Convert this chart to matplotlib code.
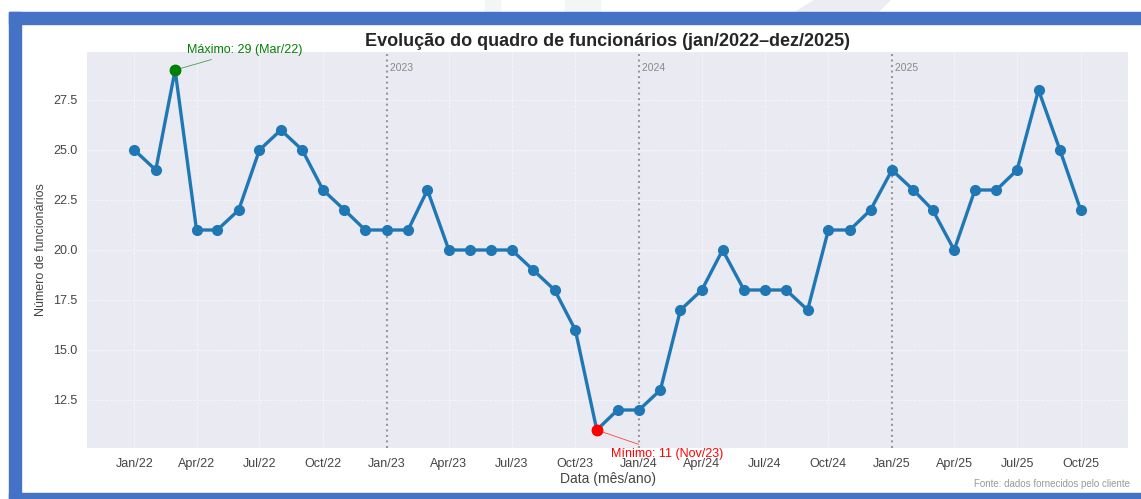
import numpy as np
import pandas as pd
import matplotlib
matplotlib.use("Agg")
import matplotlib.pyplot as plt
import matplotlib.dates as mdates
from matplotlib.patches import Rectangle, Polygon

# dados mensais (jan/2022 - out/2025)
start_month = "2022-01-01"
headcount = [25, 24, 29, 21, 21, 22, 25, 26, 25, 23, 22, 21,
             21, 21, 23, 20, 20, 20, 20, 19, 18, 16, 11, 12,
             12, 13, 17, 18, 20, 18, 18, 18, 17, 21, 21, 22,
             24, 23, 22, 20, 23, 23, 24, 28, 25, 22]
year_marks = ["2023-01-01", "2024-01-01", "2025-01-01"]
year_labels = ["2023", "2024", "2025"]

dates = pd.date_range(start_month, periods=len(headcount), freq="MS")
values = np.array(headcount)

plt.rcParams['font.family'] = ['Liberation Sans', 'DejaVu Sans']

W, H = 1141, 499
fig = plt.figure(figsize=(W / 100, H / 100), dpi=100)
fig.patch.set_facecolor("white")

# moldura do slide
blue = "#4472C4"
top = (H - 12) / H
fig.patches.append(Polygon([[485 / W, 1], [500 / W, 1], [500 / W, top], [485 / W, top]],
                           closed=True, transform=fig.transFigure, color="#f4f5f5", zorder=0))
fig.patches.append(Polygon([[565 / W, 1], [600 / W, 1], [600 / W, top], [565 / W, top]],
                           closed=True, transform=fig.transFigure, color="#f4f5f5", zorder=0))
fig.patches.append(Polygon([[815 / W, 1], [890 / W, 1], [878 / W, top], [796 / W, top]],
                           closed=True, transform=fig.transFigure, color="#ececf2", zorder=0))
fig.patches.append(Rectangle((9 / W, (H - 24) / H), 1, 12 / H, transform=fig.transFigure, color=blue, zorder=1))
fig.patches.append(Rectangle((9 / W, 0), 12 / W, top, transform=fig.transFigure, color=blue, zorder=1))
fig.patches.append(Rectangle((9 / W, 0), 1, 6 / H, transform=fig.transFigure, color=blue, zorder=1))

ax = fig.add_axes([87 / W, (H - 448) / H, (1128 - 87) / W, (448 - 52) / H])
ax.set_facecolor("#EAEAF2")
for s in ax.spines.values():
    s.set_visible(False)
ax.grid(True, color="white", linestyle="--", linewidth=0.6, alpha=0.6)
ax.set_axisbelow(True)

ax.plot(dates, values, color="#1f77b4", linewidth=2.4, marker="o", markersize=7, zorder=3)

# maximo e minimo
imax = int(np.argmax(values))
imin = int(np.argmin(values))
ax.plot(dates[imax], values[imax], "o", color="green", markersize=7.5, zorder=4)
ax.plot(dates[imin], values[imin], "o", color="red", markersize=7.5, zorder=4)
ax.annotate(f"Máximo: {values[imax]} ({dates[imax].strftime('%b/%y')})",
            xy=(dates[imax], values[imax]), xytext=(12, 20), textcoords="offset pixels",
            color="green", fontsize=9, va="center",
            arrowprops=dict(arrowstyle="-", color="green", lw=0.6, alpha=0.7))
ax.annotate(f"Mínimo: {values[imin]} ({dates[imin].strftime('%b/%y')})",
            xy=(dates[imin], values[imin]), xytext=(14, -24), textcoords="offset pixels",
            color="red", fontsize=9, va="center",
            arrowprops=dict(arrowstyle="-", color="red", lw=0.6, alpha=0.7))

# linhas de virada de ano
for d, lab in zip(year_marks, year_labels):
    x = pd.Timestamp(d)
    ax.axvline(x, color="#999999", linestyle=":", linewidth=1.5, zorder=2)
    ax.text(x, 0.96, " " + lab, transform=ax.get_xaxis_transform(),
            color="#888888", fontsize=7.5, va="center", ha="left")

ax.margins(x=0.05, y=0.05)
ax.xaxis.set_major_locator(mdates.MonthLocator(bymonth=[1, 4, 7, 10]))
ax.xaxis.set_major_formatter(mdates.DateFormatter("%b/%y"))
ax.set_yticks([12.5, 15.0, 17.5, 20.0, 22.5, 25.0, 27.5])
ax.tick_params(axis="both", length=0, pad=7, labelsize=9, labelcolor="#444444")

ax.set_title("Evolução do quadro de funcionários (jan/2022–dez/2025)",
             fontsize=13, fontweight="bold", color="#262626", pad=4)
ax.set_xlabel("Data (mês/ano)", fontsize=10, color="#444444", labelpad=2)
ax.set_ylabel("Número de funcionários", fontsize=9, color="#444444", labelpad=4)

fig.text(1130 / W, (H - 484) / H, "Fonte: dados fornecidos pelo cliente",
         ha="right", va="center", fontsize=7, color="#999999")

fig.savefig("out.png", dpi=100)
